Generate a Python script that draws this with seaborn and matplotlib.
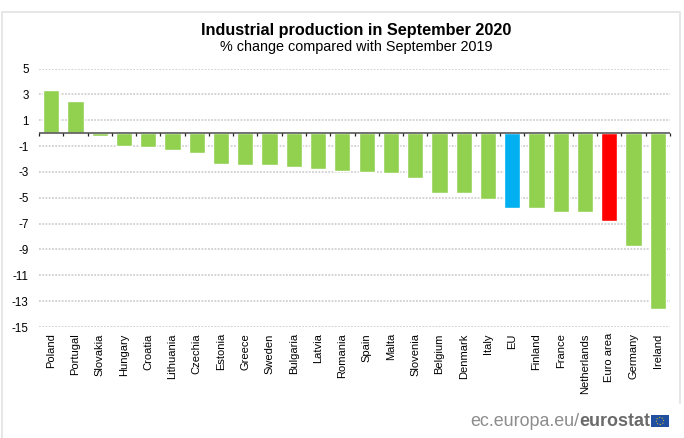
import matplotlib
matplotlib.use('Agg')
import matplotlib.pyplot as plt
from matplotlib.lines import Line2D
from matplotlib.patches import Rectangle, Circle
import seaborn as sns
import pandas as pd

countries = ['Poland', 'Portugal', 'Slovakia', 'Hungary', 'Croatia', 'Lithuania', 'Czechia', 'Estonia',
             'Greece', 'Sweden', 'Bulgaria', 'Latvia', 'Romania', 'Spain', 'Malta', 'Slovenia', 'Belgium',
             'Denmark', 'Italy', 'EU', 'Finland', 'France', 'Netherlands', 'Euro area', 'Germany', 'Ireland']
change = [3.3, 2.5, -0.2, -1.0, -1.1, -1.3, -1.5, -2.4, -2.5, -2.5, -2.6, -2.8, -2.9, -3.0, -3.1, -3.5,
          -4.6, -4.6, -5.1, -5.8, -5.8, -6.1, -6.1, -6.8, -8.7, -13.6]
y_ticks = [5, 3, 1, -1, -3, -5, -7, -9, -11, -13, -15]

GREEN = '#92d050'
highlight = {'EU': '#00b0f0', 'Euro area': '#ff0000'}

sns.set_style('white')
plt.rcParams['font.family'] = ['Liberation Sans', 'DejaVu Sans']

df = pd.DataFrame({'country': countries, 'change': change})
palette = {c: highlight.get(c, GREEN) for c in countries}

fig = plt.figure(figsize=(6.84, 4.38), dpi=100)
ax = fig.add_axes([39 / 684, 1 - 327 / 438, (670 - 39) / 684, (327 - 68.5) / 438])

sns.barplot(data=df, x='country', y='change', hue='country', palette=palette, legend=False,
            width=0.67, saturation=1, ax=ax, zorder=3)

ax.set_xlim(-0.5, len(countries) - 0.5)
ax.set_ylim(-15, 5)
ax.set_yticks(y_ticks)
ax.set_yticklabels([str(t) for t in y_ticks], fontsize=8.4, color='black')
ax.yaxis.grid(True, color='#d0d0d0', linestyle=(0, (1, 0.8)), linewidth=1.3)
ax.set_axisbelow(True)
ax.set_xlabel('')
ax.set_ylabel('')
ax.tick_params(axis='y', length=0, pad=7.5)

# x labels hang under the plot, the ticks sit on the zero line
ax.set_xticks(range(len(countries)))
ax.set_xticklabels(countries, rotation=90, fontsize=8, color='black')
ax.tick_params(axis='x', length=0, pad=4.5)
for spine in ax.spines.values():
    spine.set_visible(False)
ax.axhline(0, color='#666666', linewidth=1.3, zorder=4)
ax.vlines([i - 0.5 for i in range(len(countries) + 1)], -0.22, 0, color='#222222', linewidth=0.9, zorder=4,
          clip_on=False)

fig.text(356 / 684, 1 - 30 / 438, 'Industrial production in September 2020', ha='center', va='center',
         fontsize=11.7, fontweight='bold', color='black')
fig.text(356.5 / 684, 1 - 47 / 438, '% change compared with September 2019', ha='center', va='center',
         fontsize=10.4, color='black')

# light frame, open at the bottom
frame_x = [2 / 684, 2 / 684, 680 / 684, 680 / 684]
frame_y = [0, 1 - 11.5 / 438, 1 - 11.5 / 438, 1 - 403 / 438]
fig.add_artist(Line2D(frame_x, frame_y, transform=fig.transFigure, color='#e6e6e6', linewidth=1.4))

fig.text(470 / 684, 1 - 422 / 438, 'ec.europa.eu/', ha='left', va='center', fontsize=12.9, color='#8c8c8c')
fig.text(579 / 684, 1 - 422 / 438, 'eurostat', ha='left', va='center', fontsize=12.9, color='#6a6a6a',
         fontweight='bold')

# EU flag next to the site name
logo = fig.add_axes([651 / 684, 1 - 427 / 438, 18 / 684, 12 / 438])
logo.set_xlim(0, 18)
logo.set_ylim(0, 12)
logo.axis('off')
logo.add_patch(Rectangle((0, 0), 18, 12, facecolor='#1f4f9e', edgecolor='none'))
logo.add_patch(Circle((9, 6), 3.6, fill=False, edgecolor='#c9b53a', linewidth=0.8, linestyle=(0, (1, 1.5))))

fig.savefig('out.png', dpi=100)
